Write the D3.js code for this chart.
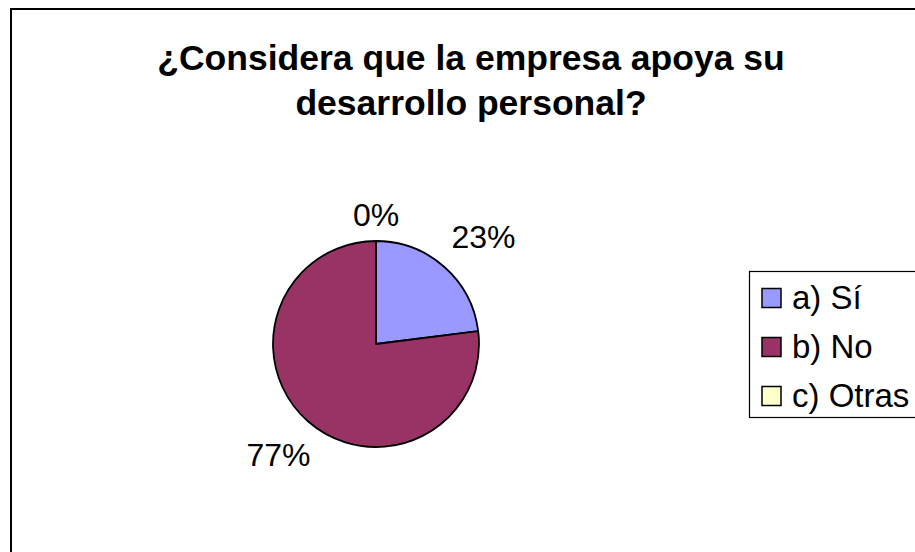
<!DOCTYPE html>
<html>
<head>
<meta charset="utf-8">
<script src="https://cdn.jsdelivr.net/npm/d3@7"></script>
<style>
	body { margin: 0; background: #fff; }
	text { font-family: 'Liberation Sans', Arial, sans-serif; }
</style>
</head>
<body>
<div id="chart"></div>
<script>
let width = 915
let height = 552

let titleLines = ['¿Considera que la empresa apoya su', 'desarrollo personal?']
let categories = ['a) Sí', 'b) No', 'c) Otras']
let values = [23, 77, 0]
let colors = ['#9999FF', '#993366', '#FFFFCC']

let center = { 'x': 376, 'y': 344 }
let radius = 103

let svg = d3.select('#chart').append('svg')
	.attr('width', width)
	.attr('height', height)

// chart frame, runs off the right and bottom edge
svg.append('rect')
	.attr('x', 11)
	.attr('y', 9)
	.attr('width', width + 20)
	.attr('height', height + 20)
	.attr('fill', 'none')
	.attr('stroke', '#000')
	.attr('stroke-width', 2)

let title = svg.append('text')
	.attr('text-anchor', 'middle')
	.attr('font-weight', 'bold')
	.attr('font-size', 35.5)

title.selectAll('tspan')
	.data(titleLines)
	.enter().append('tspan')
	.attr('x', 471)
	.attr('y', (d, i) => 70 + i * 45)
	.text(d => d)

let data = categories.map((c, i) => ({ 'name': c, 'value': values[i], 'color': colors[i] }))

let pie = d3.pie()
	.sort(null)
	.value(d => d.value)

let arc = d3.arc()
	.innerRadius(0)
	.outerRadius(radius)

let arcs = pie(data)

let inner = svg.append('g')
	.attr('transform', `translate(${center.x},${center.y})`)

inner.selectAll('path')
	.data(arcs.filter(d => d.value > 0))
	.enter().append('path')
	.attr('d', arc)
	.attr('fill', d => d.data.color)
	.attr('stroke', '#000')
	.attr('stroke-width', 1.8)
	.attr('stroke-linejoin', 'round')

let total = d3.sum(values)
let labelSize = 32

let labels = inner.selectAll('text.label')
	.data(arcs)
	.enter().append('text')
	.attr('class', 'label')
	.attr('font-size', labelSize)
	.attr('text-anchor', 'middle')
	.text(d => Math.round(d.data.value / total * 100) + '%')

// labels sit just outside the slice, pushed out by half their box
labels.each(function (d) {
	let box = this.getBBox()
	let a = (d.startAngle + d.endAngle) / 2
	let s = Math.sin(a)
	let c = Math.cos(a)
	let dist = radius + 15 + box.width / 2 * Math.abs(s) + 11 * Math.abs(c)
	let x = dist * s
	let y = -dist * c
	if (s > 0 && c > 0) {
		x += 10
		y += 4
	}
	d3.select(this)
		.attr('x', x)
		.attr('y', y + 11)
})

// legend
let legend = svg.append('g')

legend.append('rect')
	.attr('x', 749.5)
	.attr('y', 271.5)
	.attr('width', 200)
	.attr('height', 146)
	.attr('fill', '#fff')
	.attr('stroke', '#000')
	.attr('stroke-width', 1.2)

let rowY = d3.scalePoint()
	.domain(categories)
	.range([298, 396])

let rows = legend.selectAll('g.row')
	.data(data)
	.enter().append('g')
	.attr('class', 'row')
	.attr('transform', d => `translate(0,${rowY(d.name)})`)

rows.append('rect')
	.attr('x', 762)
	.attr('y', -9.5)
	.attr('width', 19)
	.attr('height', 19)
	.attr('fill', d => d.color)
	.attr('stroke', '#000')
	.attr('stroke-width', 1.5)

rows.append('text')
	.attr('x', 792)
	.attr('y', 11)
	.attr('font-size', 33)
	.text(d => d.name)
</script>
</body>
</html>
